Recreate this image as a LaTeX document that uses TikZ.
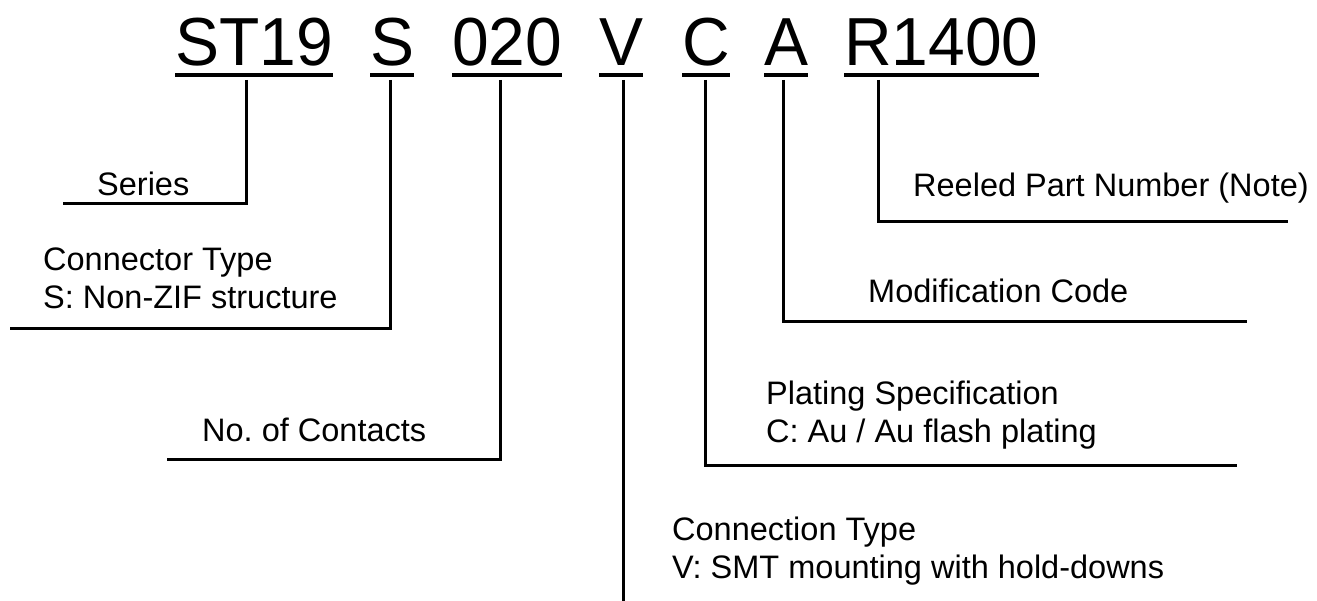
\documentclass[tikz,border=0pt]{standalone}
\usepackage{fontspec}
\setmainfont{Liberation Sans}
\newfontfamily\pntitlefont[FakeStretch=0.97]{Liberation Sans}
\frenchspacing
\begin{document}
\begin{tikzpicture}[x=1pt,y=-1pt,
  title/.style={inner sep=0pt, anchor=base west, font=\pntitlefont\fontsize{68}{80}\selectfont},
  lbl/.style={inner sep=0pt, anchor=base west, font=\fontsize{32.5}{38}\selectfont},
  uline/.style={line width=4pt},
  conn/.style={line width=3pt, line join=miter}]
\useasboundingbox (0,0) rectangle (1317,601);

% part number pieces
\node[title] (p1) at (175,65.7) {ST19};
\node[title] (p2) at (370,65.7) {S};
\node[title] (p3) at (452,65.7) {020};
\node[title] (p4) at (599,65.7) {V};
\node[title] (p5) at (682,65.7) {C};
\node[title] (p6) at (764,65.7) {A};
\node[title] (p7) at (844,65.7) {R1400};
\foreach \n in {p1,p2,p3,p4,p5,p6,p7}
  \draw[uline] ([yshift=-9pt]\n.base west) -- ([yshift=-9pt]\n.base east);

% connector start points (below the underlines)
\coordinate (a1) at (246,80);
\coordinate (a2) at (390,80);
\coordinate (a3) at (500.7,80);
\coordinate (a4) at (623,80);
\coordinate (a5) at (705,80);
\coordinate (a6) at (783,80);
\coordinate (a7) at (878,80);

% free ends of the leader lines
\coordinate (e1) at (63,203.3);
\coordinate (e2) at (10,329);
\coordinate (e3) at (167,459.3);
\coordinate (e4) at (623,603);
\coordinate (e5) at (1237,465);
\coordinate (e6) at (1247,321.7);
\coordinate (e7) at (1288,221.7);

\draw[conn] (a1) |- (e1);
\draw[conn] (a2) |- (e2);
\draw[conn] (a3) |- (e3);
\draw[conn] (a4) -- (e4);
\draw[conn] (a5) |- (e5);
\draw[conn] (a6) |- (e6);
\draw[conn] (a7) |- (e7);

% labels
\node[lbl] (l1) at (97,196) {Series};
\node[lbl] (l2a) at (43,271) {Connector Type};
\node[lbl] (l2b) at (43,309) {S: Non-ZIF structure};
\node[lbl] (l3) at (202,441.7) {No. of Contacts};
\node[lbl] (l4a) at (672,540) {Connection Type};
\node[lbl] (l4b) at (672,578) {V: SMT mounting with hold-downs};
\node[lbl] (l5a) at (766,404) {Plating Specification};
\node[lbl] (l5b) at (766,442) {C: Au / Au flash plating};
\node[lbl] (l6) at (868,303) {Modification Code};
\node[lbl] (l7) at (913,197) {Reeled Part Number (Note)};
\end{tikzpicture}
\end{document}
